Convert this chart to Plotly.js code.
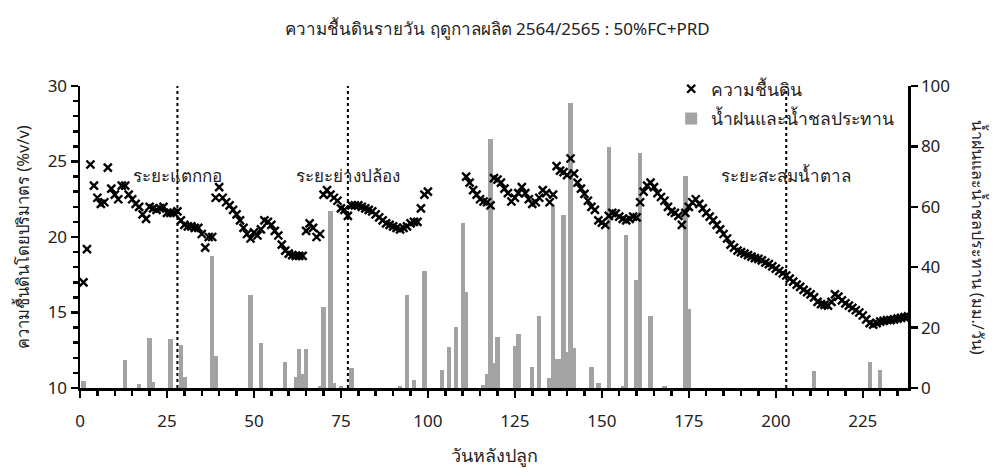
<!DOCTYPE html>
<html>
<head>
<meta charset="utf-8">
<script src="https://cdn.plot.ly/plotly-3.0.1.min.js"></script>
<style>html,body{margin:0;padding:0;background:#fff;}#chart{width:995px;height:476px;}</style>
</head>
<body>
<div id="chart"></div>
<script>
// Soil moisture (%v/v), daily readings
const moistureDays = [
  1,2,3,4,5,6,7,8,9,10,11,12,13,14,15,16,17,18,19,20,21,22,23,24,25,26,27,28,29,30,
  31,32,33,34,35,36,37,38,39,40,41,42,43,44,45,46,47,48,49,50,51,52,53,54,55,56,57,58,59,60,
  61,62,63,64,65,66,67,68,69,70,71,72,73,74,75,76,77,78,79,80,81,82,83,84,85,86,87,88,89,90,
  91,92,93,94,95,96,97,98,99,100,
  111,112,113,114,115,116,117,118,119,120,121,122,123,124,125,126,127,128,129,130,
  131,132,133,134,135,136,137,138,139,140,141,142,143,144,145,146,147,148,149,150,
  151,152,153,154,155,156,157,158,159,160,161,162,163,164,165,166,167,168,169,170,
  171,172,173,174,175,176,177,178,179,180,181,182,183,184,185,186,187,188,189,190,
  191,192,193,194,195,196,197,198,199,200,201,202,203,204,205,206,207,208,209,210,
  211,212,213,214,215,216,217,218,219,220,221,222,223,224,225,226,227,228,229,230,
  231,232,233,234,235,236,237,238
];
const moistureValues = [
  17.0,19.2,24.8,23.4,22.6,22.2,22.3,24.6,23.2,22.8,22.5,23.4,23.4,22.8,22.5,22.2,22.0,21.5,21.2,22.0,
  21.9,21.8,21.9,22.0,21.6,21.6,21.6,21.7,21.1,20.8,
  20.7,20.7,20.6,20.6,20.2,19.3,20.0,20.0,22.6,23.3,22.6,22.3,22.1,21.8,21.5,21.1,20.6,20.2,19.9,20.3,
  20.1,20.5,21.1,21.0,20.8,20.4,20.1,19.5,19.1,18.9,
  18.8,18.75,18.75,18.75,20.4,20.9,20.6,20.0,20.2,22.8,23.1,22.8,22.6,22.4,21.9,21.8,21.4,22.1,22.1,22.1,
  22.0,21.9,21.8,21.7,21.5,21.3,21.1,20.9,20.8,20.7,
  20.6,20.5,20.6,20.7,20.9,21.0,21.0,21.9,22.8,23.0,
  24.0,23.6,23.1,22.8,22.5,22.35,22.3,22.1,23.9,23.8,23.6,23.2,22.9,22.35,22.6,22.9,23.3,22.9,22.5,22.2,
  22.3,22.6,23.1,22.9,22.3,22.8,24.7,24.4,24.3,24.1,25.2,24.2,23.6,23.2,22.85,22.4,22.0,21.8,21.1,20.95,
  20.8,21.4,21.6,21.55,21.35,21.2,21.1,21.2,21.35,21.3,22.3,23.0,23.4,23.6,23.3,22.9,22.65,22.4,22.0,21.7,
  21.6,21.4,20.8,21.6,22.0,22.3,22.5,22.2,21.9,21.6,21.35,21.1,20.8,20.5,20.2,19.9,19.5,19.3,19.1,19.0,
  18.9,18.8,18.7,18.6,18.55,18.45,18.3,18.2,18.05,17.9,17.75,17.6,17.45,17.25,17.05,16.85,16.7,16.5,16.35,16.2,
  16.0,15.7,15.55,15.5,15.45,15.7,16.2,16.05,15.8,15.6,15.45,15.3,15.15,15.0,14.8,14.55,14.3,14.2,14.3,14.4,
  14.45,14.5,14.5,14.55,14.6,14.65,14.7,14.75
];

// Rain + irrigation water (mm/day)
const waterDays = [
  1,13,17,20,21,26,29,30,38,39,49,52,59,62,63,64,65,69,70,72,73,75,78,92,94,96,99,
  104,106,108,110,111,116,117,118,119,120,125,126,130,132,135,136,137,138,139,140,141,142,
  147,149,152,156,157,160,161,164,168,174,175,211,227,230
];
const waterValues = [
  2.4,9.4,1.2,16.5,1.9,16.2,14.1,3.8,43.8,10.7,30.8,14.8,8.7,3.8,12.8,4.5,12.8,0.5,26.7,58.7,1.8,0.8,6.7,0.5,30.8,2.6,38.8,
  6.0,13.7,20.1,54.8,31.9,1.0,4.5,82.3,8.2,17.0,14.0,17.8,7.1,23.9,3.4,60.5,9.5,9.5,57.3,12.0,94.5,13.4,
  7.0,1.8,79.9,0.8,50.8,35.8,77.7,23.9,0.5,70.2,26.1,5.5,8.6,5.8
];

// Growth stages
const stageDays = [28, 77, 203];
const stageLabels = ['ระยะแตกกอ', 'ระยะย่างปล้อง', 'ระยะสะสมน้ำตาล'];

const seriesNames = ['ความชื้นดิน', 'น้ำฝนและน้ำชลประทาน'];
const chartTitle = 'ความชื้นดินรายวัน ฤดูกาลผลิต 2564/2565 : 50%FC+PRD';
const xTitle = 'วันหลังปลูก';
const yLeftTitle = 'ความชื้นดินโดยปริมาตร (%v/v)';
const yRightTitle = 'น้ำฝนและน้ำชลประทาน (มม./วัน)';

const FONT = 'Noto Sans, DejaVu Sans, sans-serif';

const traces = [
  {
    type: 'scatter', mode: 'markers', name: seriesNames[0],
    x: moistureDays, y: moistureValues, yaxis: 'y2', xaxis: 'x',
    marker: {symbol: 'x-thin', size: 8, color: '#000', line: {width: 2.4, color: '#000'}},
    legendgroup: 'a'
  },
  {
    type: 'bar', name: seriesNames[1],
    x: waterDays, y: waterValues, yaxis: 'y', xaxis: 'x',
    width: 1.25, marker: {color: '#a3a3a3', line: {width: 0}},
    legendgroup: 'b'
  }
];

const shapes = stageDays.map(d => ({
  type: 'line', xref: 'x', yref: 'paper', x0: d, x1: d, y0: 0, y1: 1,
  line: {color: '#000', width: 2, dash: 'dot'}, layer: 'above'
}));

const annotations = stageDays.map((d, i) => ({
  xref: 'x', yref: 'paper', x: d, y: 0.705, text: stageLabels[i], showarrow: false,
  xanchor: 'center', yanchor: 'middle', font: {family: FONT, size: 17, color: '#222'}
}));
annotations.push({
  xref: 'paper', yref: 'paper', x: 1.085, y: 0.5, text: yRightTitle, showarrow: false,
  textangle: 90, xanchor: 'center', yanchor: 'middle', font: {family: FONT, size: 16, color: '#222'}
});
annotations.push({
  xref: 'paper', yref: 'paper', x: -0.07, y: 0.5, text: yLeftTitle, showarrow: false,
  textangle: -90, xanchor: 'center', yanchor: 'middle', font: {family: FONT, size: 16.5, color: '#222'}
});

const axisCommon = {
  showline: true, linecolor: '#000', linewidth: 2.5, ticks: 'outside', tickwidth: 2.5,
  ticklen: 7, tickcolor: '#000', showgrid: false, zeroline: false,
  tickfont: {family: FONT, size: 17, color: '#222'}
};

const layout = {
  width: 995, height: 476,
  margin: {l: 80, r: 87, t: 86, b: 88},
  paper_bgcolor: '#fff', plot_bgcolor: '#fff',
  font: {family: FONT, color: '#222'},
  title: {text: chartTitle, x: 0.5, xref: 'container', y: 0.94, yref: 'container', yanchor: 'middle',
          font: {family: FONT, size: 17, color: '#222'}},
  xaxis: Object.assign({}, axisCommon, {
    range: [0, 238], tick0: 0, dtick: 25, ticklabelstandoff: 9,
    minor: {dtick: 5, ticks: 'outside', ticklen: 5, tickwidth: 2.5, tickcolor: '#000'},
    title: {text: xTitle, font: {family: FONT, size: 18, color: '#222'}, standoff: 19}
  }),
  yaxis: Object.assign({}, axisCommon, {
    range: [0, 100], dtick: 20, side: 'right'
  }),
  yaxis2: Object.assign({}, axisCommon, {
    range: [10, 30], dtick: 5, side: 'left', overlaying: 'y',
    minor: {dtick: 1, ticks: 'outside', ticklen: 5, tickwidth: 2.5, tickcolor: '#000'}
  }),
  bargap: 0, barmode: 'overlay',
  showlegend: true,
  legend: {x: 0.714, y: 1.05, xanchor: 'left', yanchor: 'top', bgcolor: 'rgba(0,0,0,0)',
           font: {family: FONT, size: 17.5, color: '#222'}, traceorder: 'grouped', tracegroupgap: 4},
  shapes: shapes, annotations: annotations
};

Plotly.newPlot('chart', traces, layout, {displayModeBar: false, staticPlot: true});
</script>
</body>
</html>
